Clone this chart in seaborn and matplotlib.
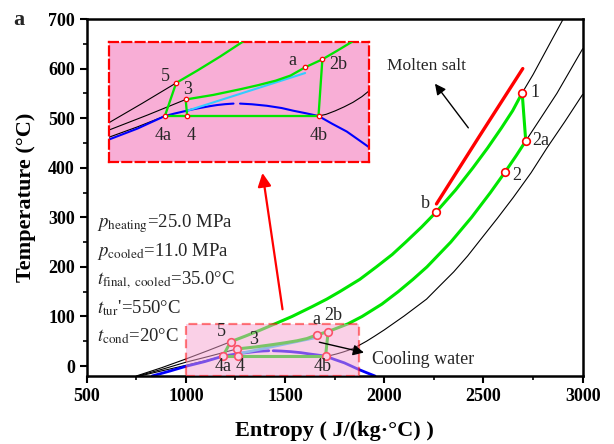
import matplotlib
matplotlib.use("Agg")
import matplotlib.pyplot as plt
import seaborn as sns
from matplotlib.patches import Rectangle
from matplotlib.ticker import MultipleLocator

# ---- saturation dome of CO2 (entropy J/(kg.°C), temperature °C) ----
dome_liq_s = [830, 920, 1000, 1095, 1187, 1220, 1250, 1280, 1310, 1340,
              1362, 1390, 1418]
dome_liq_T = [-20, -10, -0.5, 9, 20, 22.2, 24, 25.8, 27.3, 28.7,
              29.6, 30.4, 30.9]
dome_vap_s = [1440, 1480, 1530, 1580, 1620, 1660, 1704, 1750, 1799, 1835,
              1872, 1910, 1953]
dome_vap_T = [30.9, 30.3, 29, 27, 24.6, 22.5, 20, 13.2, 6.4, -0.2,
              -7, -13.2, -20]

# ---- isobars (thin black) ----
hp_liq_s = [750, 880, 1000, 1110, 1225]        # 25.0 MPa, below point 5
hp_liq_T = [-20, -3, 14.3, 31, 49]
hp_top_s = [2695, 2750, 2800, 2850, 2902]      # 25.0 MPa, above point 1
hp_top_T = [551, 588, 625, 662, 700]
mp_liq_s = [758, 880, 1000, 1130, 1257]        # 11.0 MPa, below point 3
mp_liq_T = [-20, -6.5, 7.8, 21, 34.5]
mp_top_s = [2713, 2790, 2870, 2935, 3000]      # 11.0 MPa, above point 2a
mp_top_T = [454, 501, 550, 595, 640]
lp_liq_s = [768, 880, 1000, 1095, 1187]        # condensing pressure, liquid
lp_liq_T = [-20, -9.5, 1.5, 10.5, 20]
lp_vap_s = [1704, 1730, 1760, 1790, 1820, 1850, 1872, 1910, 1950, 2000,
            2050, 2100, 2150, 2213, 2280, 2350, 2420, 2483, 2570, 2650,
            2740, 2820, 2910, 3000]
lp_vap_T = [20, 21.5, 24.5, 28, 32, 37, 41.6, 50, 60, 73,
            87, 101, 116, 135, 162, 190, 222, 254, 298, 340,
            390, 440, 493, 548]

# ---- cycle (green) ----
heat_s = [1225, 1297, 1372, 1451, 1535, 1637, 1710, 1775, 1877, 1960,
          2040, 2108, 2187, 2260, 2359, 2447, 2521, 2590, 2647, 2695]
heat_T = [49, 60, 72, 85.5, 100, 120, 135, 150, 175, 200,
          225, 250, 280, 310, 355, 400, 440, 480, 515, 551]
recup_s = [1257, 1350, 1441, 1500, 1560, 1610, 1659, 1717, 1765, 1816,
           1888, 1988, 2070, 2145, 2215, 2335, 2440, 2535, 2610, 2666, 2713]
recup_T = [34.5, 38.5, 43.5, 47, 51, 55.5, 62.7, 69.7, 77, 85,
           100, 125, 150, 175, 200, 250, 300, 350, 392, 425, 454]
turb_s, turb_T = [2695, 2713], [551, 454]          # 1 -> 2a
exp_s, exp_T = [1717, 1704], [69.7, 20]            # 2b -> 4b
cond_s, cond_T = [1187, 1704], [20, 20]            # 4a -> 4b
pump5_s, pump5_T = [1187, 1225], [20, 49]          # 4a -> 5
pump3_s, pump3_T = [1262, 1257], [20, 34.5]        # 4 -> 3
cool_water_s, cool_water_T = [1262, 1659], [24.6, 57.7]
salt_s, salt_T = [2263, 2480, 2698], [327, 464, 600]

# ---- state points ----
pt_names = ["1", "2a", "2", "b", "5", "3", "4a", "4", "a", "2b", "4b"]
pt_s = [2695, 2713, 2610, 2260, 1225, 1257, 1187, 1262, 1659, 1717, 1704]
pt_T = [551, 454, 392, 310, 49, 34.5, 20, 20, 62.7, 69.7, 20]

params = [r"$p_{\rm heating}$=25.0 MPa", r"$p_{\rm cooled}$=11.0 MPa",
          r"$t_{\rm final,\ cooled}$=35.0°C", r"$t_{\rm tur}$'=550°C",
          r"$t_{\rm cond}$=20°C"]

GREEN = "#00E600"
PINK = "#F8AED6"

sns.set_theme(style="ticks")
plt.rcParams["font.family"] = ["Liberation Serif", "DejaVu Serif"]
plt.rcParams["mathtext.fontset"] = "stix"

fig = plt.figure(figsize=(6.14, 4.44), dpi=100)
ax = fig.add_axes([0.1412, 0.1532, 0.8078, 0.8040])


def curve(axis, s, T, color, lw, z=3, **kw):
    sns.lineplot(x=s, y=T, sort=False, estimator=None, errorbar=None,
                 color=color, linewidth=lw, zorder=z, ax=axis,
                 legend=False, solid_joinstyle="round", **kw)


def draw_cycle(axis, k):
    """k scales line widths (main axes k=1, magnified view smaller)."""
    for s, T in [(hp_liq_s, hp_liq_T), (hp_top_s, hp_top_T),
                 (mp_liq_s, mp_liq_T), (mp_top_s, mp_top_T),
                 (lp_liq_s, lp_liq_T), (lp_vap_s, lp_vap_T)]:
        curve(axis, s, T, "black", 0.8, z=2)
    curve(axis, dome_liq_s, dome_liq_T, "#0000FF", 2.0 * k, z=2)
    curve(axis, dome_vap_s, dome_vap_T, "#0000FF", 2.0 * k, z=2)
    curve(axis, cool_water_s, cool_water_T, "#33CCFF", 2.0 * k, z=3)
    for s, T in [(heat_s, heat_T), (recup_s, recup_T), (turb_s, turb_T),
                 (exp_s, exp_T), (cond_s, cond_T), (pump5_s, pump5_T),
                 (pump3_s, pump3_T)]:
        curve(axis, s, T, GREEN, 2.2 * k, z=3)


draw_cycle(ax, 1.0)
curve(ax, salt_s, salt_T, "red", 2.4, z=3)
sns.scatterplot(x=pt_s, y=pt_T, marker="o", s=30, facecolor="white",
                edgecolor="red", linewidth=1.2, zorder=5, ax=ax, legend=False)

# highlighted region, drawn over the curves as a translucent window
ax.add_patch(Rectangle((1000, -20), 875, 105, facecolor="#F7A3D0",
                       edgecolor="red", alpha=0.5, lw=1.6,
                       ls=(0, (4, 2)), zorder=6))

main_lbl = {"1": (2762, 551), "2a": (2790, 454), "2": (2667, 384),
            "b": (2205, 327), "5": (1180, 69), "3": (1340, 54),
            "4a": (1189, -1), "4": (1273, -1), "a": (1659, 93),
            "2b": (1745, 102), "4b": (1690, -1)}
for name, (x, y) in main_lbl.items():
    ax.text(x, y, name, fontsize=13, ha="center", va="center", zorder=8)

ax.annotate("", xy=(2247, 574), xytext=(2432, 476),
            arrowprops=dict(arrowstyle="-|>", color="black", lw=1.0,
                            mutation_scale=16), zorder=8)
ax.text(2013, 605, "Molten salt", fontsize=12.5, ha="left", va="center")
ax.annotate("", xy=(1911, 26), xytext=(1659, 49.4),
            arrowprops=dict(arrowstyle="-|>", color="black", lw=1.0,
                            mutation_scale=16), zorder=8)
ax.text(1936, 14, "Cooling water", fontsize=13, ha="left", va="center",
        zorder=8)
ax.annotate("", xy=(1384, 395), xytext=(1489, 109),
            arrowprops=dict(arrowstyle="-|>", color="red", lw=1.6,
                            mutation_scale=20), zorder=8)

for txt, y in zip(params, [286.7, 230.2, 173.8, 117.3, 60.9]):
    ax.text(552, y, txt, fontsize=13.5, ha="left", va="center", zorder=8)

ax.set_xlim(500, 3000)
ax.set_ylim(-20, 700)
ax.xaxis.set_major_locator(MultipleLocator(500))
ax.xaxis.set_minor_locator(MultipleLocator(250))
ax.yaxis.set_major_locator(MultipleLocator(100))
ax.yaxis.set_minor_locator(MultipleLocator(50))
ax.tick_params(which="major", direction="out", length=5, width=1.5,
               color="black", labelsize=13, labelcolor="black")
ax.tick_params(which="minor", direction="out", length=3, width=1.2,
               color="black")
for lab in ax.get_xticklabels() + ax.get_yticklabels():
    lab.set_fontweight("bold")
for sp in ax.spines.values():
    sp.set_visible(True)
    sp.set_linewidth(1.8)
    sp.set_color("black")
ax.set_xlabel("Entropy ( J/(kg·°C) )", fontsize=16, fontweight="bold",
              labelpad=12, color="black")
ax.set_ylabel("Temperature (°C)", fontsize=16, fontweight="bold",
              labelpad=9, color="black")
fig.text(0.03, 0.955, "a", fontsize=16, fontweight="bold", ha="center",
         va="center")

# magnified view of the condensation / compression region
ax_in = fig.add_axes([0.178, 0.636, 0.4235, 0.2696])
ax_in.set_facecolor(PINK)
draw_cycle(ax_in, 0.75)
sns.scatterplot(x=pt_s[4:], y=pt_T[4:], marker="o", s=10, facecolor="white",
                edgecolor="red", linewidth=0.9, zorder=5, ax=ax_in,
                legend=False)
inset_lbl = {"5": (1190, 55), "3": (1262, 43), "a": (1617, 68.6),
             "2b": (1771, 65), "4a": (1180, 2.6), "4": (1274, 2.6),
             "4b": (1704, 2.6)}
for name, (x, y) in inset_lbl.items():
    ax_in.text(x, y, name, fontsize=13, ha="center", va="center", zorder=8)
ax_in.set_xlim(1000, 1875)
ax_in.set_ylim(-20, 85)
ax_in.set_xticks([])
ax_in.set_yticks([])
ax_in.set_xlabel("")
ax_in.set_ylabel("")
for sp in ax_in.spines.values():
    sp.set_visible(True)
    sp.set_color("red")
    sp.set_linewidth(1.6)
    sp.set_linestyle((0, (4, 2)))

fig.savefig("out.png", dpi=100)
